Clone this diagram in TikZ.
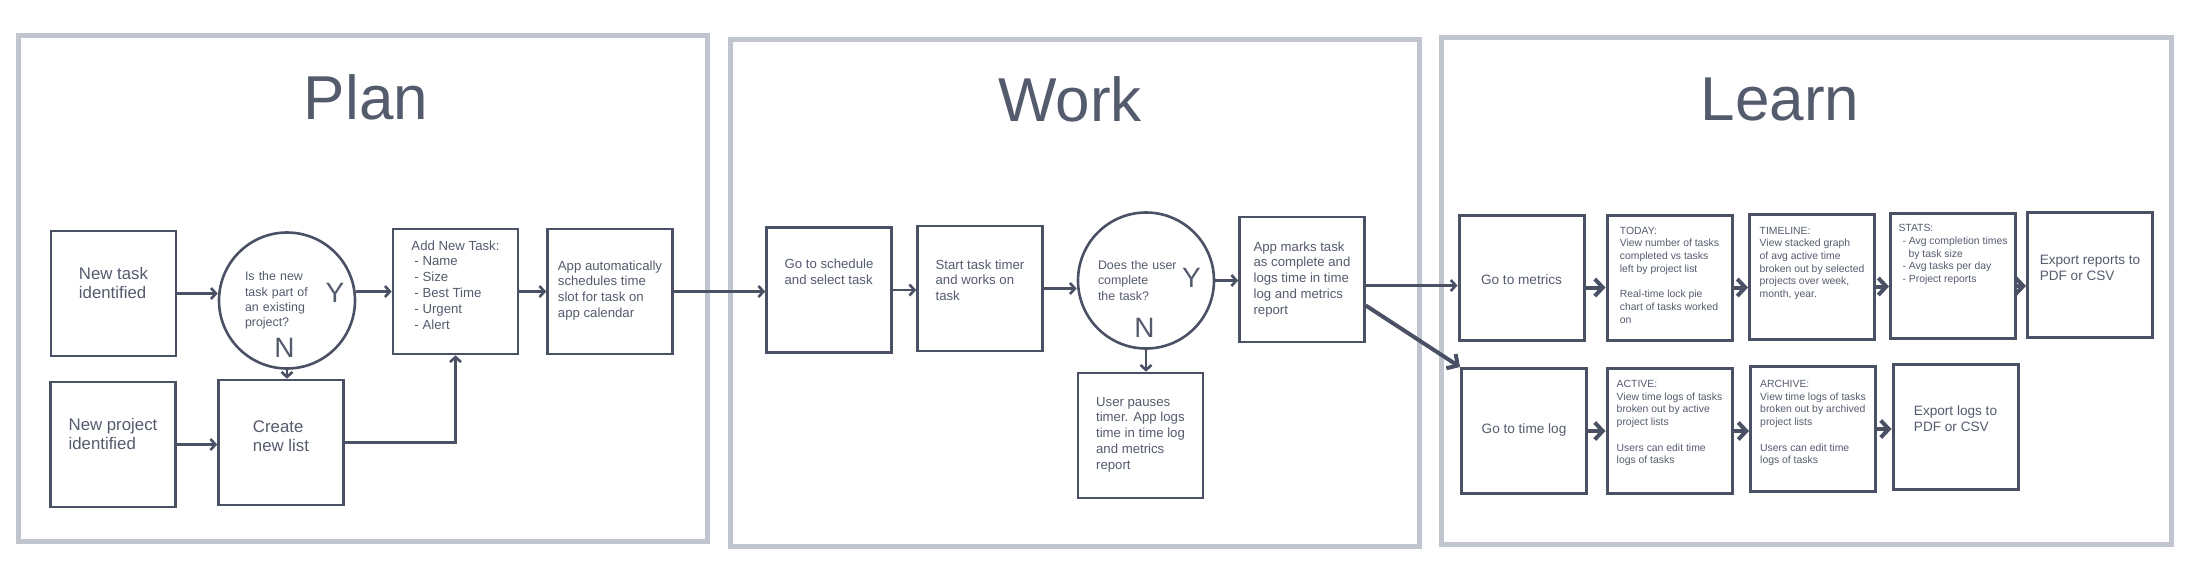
\documentclass[tikz,border=0pt]{standalone}
\usepackage{fontspec}
\setmainfont{Liberation Sans}
\usetikzlibrary{arrows.meta, calc}

\definecolor{ink}{HTML}{4A5164}
\definecolor{txt}{HTML}{535B6C}
\definecolor{frame}{HTML}{C1C5CD}

\begin{document}
\begin{tikzpicture}[
    x=0.5pt, y=-0.5pt,
    panel/.style={draw=frame, line width=2.5pt},
    phase/.style={font=\fontsize{31}{31}\selectfont, text=txt, anchor=base},
    % #1 = distance of the last text line's baseline below the box top
    box/.style={draw=ink, line width=1.3pt, rectangle, minimum width=62.5pt, minimum height=62.5pt,
        inner xsep=0pt, inner ysep=0pt, align=left, text=txt, font=\fontsize{6.6}{7.9}\selectfont,
        text height=#1, text depth=62.5pt-#1},
    box/.default=30pt,
    big/.style={font=\fontsize{8.4}{9.6}\selectfont},
    mid/.style={font=\fontsize{6.8}{8}\selectfont, line width=1.5pt},
    small/.style={font=\fontsize{5.2}{6.35}\selectfont, line width=1.5pt},
    decision/.style={draw=ink, line width=1.3pt, circle, minimum size=68pt, inner sep=0pt,
        text width=#1, align=left, text=txt, font=\fontsize{6.2}{7.7}\selectfont},
    yn/.style={font=\fontsize{14}{14}\selectfont, text=txt, inner sep=0pt, anchor=base},
    arr/.style={draw=ink, line width=1.3pt, -{Straight Barb[length=2.5pt, width=5.5pt]}},
    barr/.style={arr, line width=2pt, -{Straight Barb[length=4pt, width=8.5pt]}},
]
\useasboundingbox (0,0) rectangle (2196,575);

% === PHASE PANELS ===
\draw[panel] (18.5,35.5) rectangle (707.5,541.5);
\draw[panel] (730.5,39.5) rectangle (1419.5,546);
\draw[panel] (1441.5,37.5) rectangle (2171.5,544);

\node[phase] (plan) at (366,119) {Plan};
\node[phase] (work) at (1070,121) {Work};
\node[phase] (learn) at (1780,120) {Learn};

% === PLAN ===
\node[box=33.6pt, big] (ntask) at (113.5,293.5) {New task\\identified};
\node[box=33.6pt, big] (nproj) at (113,444.5) {New project\\identified};
\node[decision=42pt] (q1) at (287,300.5) {Is the new\\task part of\\an existing\\project?};
\node[yn] (q1y) at ($(q1)+(48,1.5)$) {Y};
\node[yn] (q1n) at ($(q1)+(-2.5,56.5)$) {N};
\node[box=35.6pt, big] (newlist) at (281,442.5) {Create\\new list};
\node[box=50pt] (addtask) at (455.5,291.5) {Add New Task:\\\hspace*{1.5pt}- Name\\\hspace*{1.5pt}- Size\\\hspace*{1.5pt}- Best Time\\\hspace*{1.5pt}- Urgent\\\hspace*{1.5pt}- Alert};
\node[box=44.2pt] (appauto) at (610,291.5) {App automatically\\schedules time\\slot for task on\\app calendar};

\draw[arr] (ntask.east) -- (ntask.east -| q1.west);
\draw[arr] (q1.east |- addtask.west) -- (addtask.west);
\draw[arr] (addtask) -- (appauto);
\draw[arr] (q1.south) -- (q1.south |- newlist.north);
\draw[arr] (nproj.east) -- (nproj.east -| newlist.west);
\draw[arr] (newlist.east) -| (addtask.south);

% === WORK ===
\node[box=28.4pt] (gosched) at (829,290) {Go to schedule\\and select task};
\node[box=37.3pt] (starttimer) at (980,288.5) {Start task timer\\and works on\\task};
\node[decision=48pt] (q2) at (1146,280.5) {Does the user\\complete\\the task?};
\node[yn] (q2y) at ($(q2)+(45.5,6.5)$) {Y};
\node[yn] (q2n) at ($(q2)+(-1.5,56.5)$) {N};
\node[box=48.6pt] (appmarks) at (1302,279.5) {App marks task\\as complete and\\logs time in time\\log and metrics\\report};
\node[box=48.1pt] (userpause) at (1140.5,435.5) {User pauses\\timer. App logs\\time in time log\\and metrics\\report};

\draw[arr] (appauto.east) -- (appauto.east -| gosched.west);
\draw[arr] (gosched.east) -- (gosched.east -| starttimer.west);
\draw[arr] (starttimer.east) -- (starttimer.east -| q2.west);
\draw[arr] (q2.east) -- (q2.east -| appmarks.west);
\draw[arr] (q2.south) -- (q2.south |- userpause.north);

% === LEARN ===
\node[box=34.5pt, mid] (gometrics) at (1521.5,277.5) {Go to metrics};
\node[box=54pt, small] (today) at (1669.5,277.5) {TODAY:\\View number of tasks\\completed vs tasks\\left by project list\\[6.35pt]Real-time lock pie\\chart of tasks worked\\on};
\node[box=41.8pt, small] (timeline) at (1812,276.5) {TIMELINE:\\View stacked graph\\of avg active time\\broken out by selected\\projects over week,\\month, year.};
\node[box=34.5pt, small] (stats) at (1953,276) {STATS:\\\hspace*{2pt}- Avg completion times\\\hspace*{5pt}by task size\\\hspace*{2pt}- Avg tasks per day\\\hspace*{2pt}- Project reports};
\node[box=34pt, mid] (exportrep) at (2090,275) {Export reports to\\PDF or CSV};

\node[box=32.5pt, mid] (gotimelog) at (1524,431) {Go to time log};
\node[box=47.6pt, small] (active) at (1669.5,431) {ACTIVE:\\View time logs of tasks\\broken out by active\\project lists\\[6.35pt]Users can edit time\\logs of tasks};
\node[box=48.6pt, small] (archive) at (1813,429) {ARCHIVE:\\View time logs of tasks\\broken out by archived\\project lists\\[6.35pt]Users can edit time\\logs of tasks};
\node[box=33.5pt, mid] (exportlogs) at (1955.5,427) {Export logs to\\PDF or CSV};

% --- Work -> Learn ---
\draw[arr] ([yshift=-3pt]appmarks.east) -- ([yshift=-3pt]appmarks.east -| gometrics.west);
\draw[barr] ([yshift=-13pt]appmarks.east) -- (gotimelog.north west);

\foreach \a/\b in {gometrics/today, today/timeline, timeline/stats, stats/exportrep}
    \draw[barr] ([yshift=-5pt]\a.east) -- ([yshift=-5pt]\a.east -| \b.west);
\foreach \a/\b in {gotimelog/active, active/archive, archive/exportlogs}
    \draw[barr] (\a.east) -- (\a.east -| \b.west);

\end{tikzpicture}
\end{document}
